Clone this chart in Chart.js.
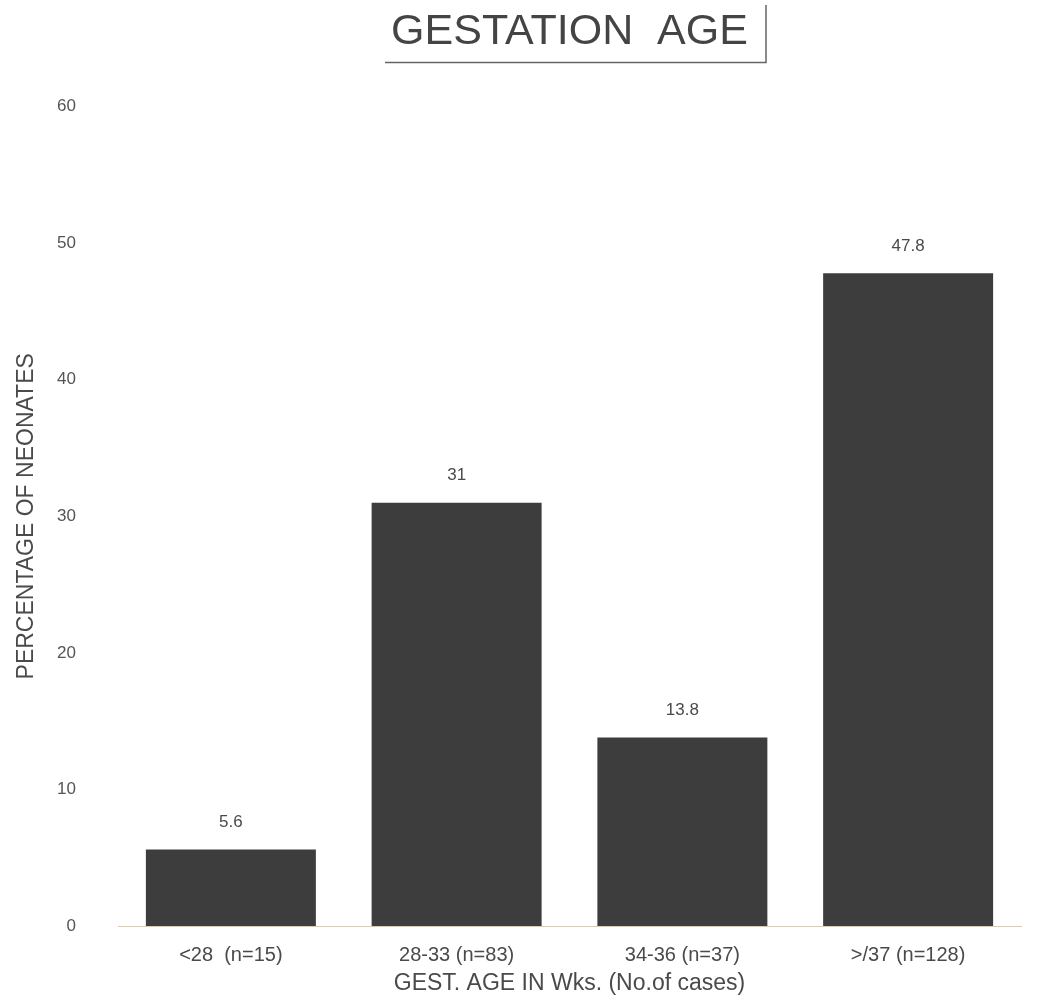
<!DOCTYPE html>
<html>
<head>
<meta charset="utf-8">
<title>Gestation age</title>
<script src="https://cdn.jsdelivr.net/npm/chart.js@4.4.1/dist/chart.umd.min.js"></script>
<style>
  html, body { margin: 0; padding: 0; background: #fff; }
  #wrap { width: 1044px; height: 1003px; }
</style>
</head>
<body>
<div id="wrap"><canvas id="barChart" width="1044" height="1003"></canvas></div>
<script>
// data
var categories = ['<28  (n=15)', '28-33 (n=83)', '34-36 (n=37)', '>/37 (n=128)'];
var percentages = [5.6, 31, 13.8, 47.8];
var valueLabels = ['5.6', '31', '13.8', '47.8'];
var yTicks = [0, 10, 20, 30, 40, 50, 60];

var chartTitle = 'GESTATION  AGE';
var xTitle = 'GEST. AGE IN Wks. (No.of cases)';
var yTitle = 'PERCENTAGE OF NEONATES';

var textColor = '#4a4a4a';

// numbers printed above each bar
var valuesPlugin = {
	id: 'values',
	afterDatasetsDraw: function(chart) {
		var ctx = chart.ctx;
		var meta = chart.getDatasetMeta(0);
		ctx.save();
		ctx.font = '17px "Liberation Sans", Arial, sans-serif';
		ctx.fillStyle = textColor;
		ctx.textAlign = 'center';
		ctx.textBaseline = 'middle';
		meta.data.forEach(function(bar, i) {
			ctx.fillText(valueLabels[i], bar.x, bar.y - 27);
		});
		ctx.restore();
	}
};

// underline + bracket round the title
var decoPlugin = {
	id: 'deco',
	afterDraw: function(chart) {
		var ctx = chart.ctx;
		ctx.save();
		ctx.strokeStyle = '#666';
		ctx.lineWidth = 1.5;
		ctx.beginPath();
		ctx.moveTo(385, 62.5);
		ctx.lineTo(766, 62.5);
		ctx.lineTo(766, 5);
		ctx.stroke();
		ctx.restore();
	}
};

var data = {
	labels: categories,
	datasets: [
		{
			label: 'Percentage of neonates',
			data: percentages,
			backgroundColor: '#3d3d3d',
			borderWidth: 0,
			barPercentage: 0.753,
			categoryPercentage: 1
		}
	]
};

var options = {
	responsive: false,
	animation: false,
	layout: {
		padding: { top: 0, right: 23, bottom: 0, left: 0 }
	},
	plugins: {
		legend: { display: false },
		tooltip: { enabled: false },
		title: {
			display: true,
			text: chartTitle,
			fullSize: false,
			color: '#444',
			font: { family: '"Liberation Sans", Arial, sans-serif', size: 43, weight: 'normal' },
			padding: { top: 6, bottom: 49 }
		}
	},
	scales: {
		x: {
			grid: { display: false, drawTicks: false },
			border: { display: true, color: '#d6cbbb', width: 1 },
			ticks: {
				color: textColor,
				padding: 17,
				maxRotation: 0,
				autoSkip: false,
				font: { family: '"Liberation Sans", Arial, sans-serif', size: 20 }
			},
			title: {
				display: true,
				text: xTitle,
				color: textColor,
				padding: { top: 0, bottom: 6 },
				font: { family: '"Liberation Sans", Arial, sans-serif', size: 23 }
			},
			afterFit: function(scale) { scale.height = 77; }
		},
		y: {
			min: 0,
			max: 60,
			grid: { display: false, drawTicks: false },
			border: { display: false },
			afterBuildTicks: function(scale) {
				scale.ticks = yTicks.map(function(v) { return { value: v }; });
			},
			ticks: {
				color: '#555',
				padding: 42,
				font: { family: '"Liberation Sans", Arial, sans-serif', size: 17 }
			},
			title: {
				display: true,
				text: yTitle,
				color: textColor,
				padding: { top: 13, bottom: 0 },
				font: { family: '"Liberation Sans", Arial, sans-serif', size: 23 }
			},
			afterFit: function(scale) { scale.width = 118; }
		}
	}
};

var ctx = document.getElementById('barChart');

var myBarChart = new Chart(ctx, {
	type: 'bar',
	data: data,
	options: options,
	plugins: [valuesPlugin, decoPlugin]
});
</script>
</body>
</html>
